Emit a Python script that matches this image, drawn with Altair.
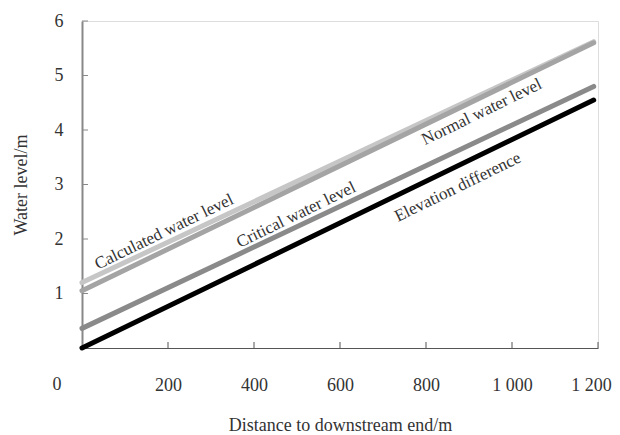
import altair as alt
import pandas as pd

# --- data ---
series = ["Calculated water level", "Normal water level", "Critical water level", "Elevation difference"]
dist = [0, 1190]
calculated = [1.20, 5.62]
normal = [1.05, 5.60]
critical = [0.36, 4.80]
elevation = [0.00, 4.55]
colors = ["#c6c6c6", "#a4a4a4", "#8a8a8a", "#000000"]
widths = [5, 5, 5, 4]

label_x = [191, 930, 498, 874]
label_y = [2.13, 4.33, 2.44, 2.95]

x_ticks = [200, 400, 600, 800, 1000, 1200]
y_ticks = [1, 2, 3, 4, 5, 6]

W, H = 516, 327
FONT = "Liberation Serif"

rows = []
for name, vals in zip(series, [calculated, normal, critical, elevation]):
    for d, v in zip(dist, vals):
        rows.append({"series": name, "x": d, "y": v})
df = pd.DataFrame(rows)

lab = pd.DataFrame({"series": series, "x": label_x, "y": label_y})

xs = alt.Scale(domain=[0, 1200], nice=False)
ys = alt.Scale(domain=[0, 6], nice=False)

base_x = alt.X("x:Q", scale=xs, axis=alt.Axis(
    values=x_ticks, ticks=False, grid=False, domainColor="#555", domainWidth=1.2,
    labelFont=FONT, labelFontSize=18, labelColor="#333", labelPadding=28,
    labelFlush=False, labelOverlap=False,
    labelOffset={"condition": {"test": "datum.value == 1200", "value": -7}, "value": 0},
    labelExpr="replace(format(datum.value, ','), ',', ' ')",
    title="Distance to downstream end/m", titleFont=FONT, titleFontSize=18,
    titleFontWeight="normal", titleColor="#333", titlePadding=22))
base_y = alt.Y("y:Q", scale=ys, axis=alt.Axis(
    values=y_ticks, ticks=False, grid=False, domainColor="#888", domainWidth=2,
    format="d", labelFlush=False,
    labelFont=FONT, labelFontSize=18, labelColor="#333", labelPadding=19,
    title="Water level/m", titleFont=FONT, titleFontSize=18,
    titleFontWeight="normal", titleColor="#333", titlePadding=24))

color = alt.Color("series:N", scale=alt.Scale(domain=series, range=colors), legend=None)
size = alt.StrokeWidth("series:N", scale=alt.Scale(domain=series, range=widths), legend=None)

lines = alt.Chart(df).mark_line(strokeCap="round").encode(
    x=base_x, y=base_y, color=color, strokeWidth=size, detail="series:N")

texts = alt.Chart(lab).mark_text(font=FONT, fontSize=17, angle=334, color="#333").encode(
    x=alt.X("x:Q", scale=xs), y=alt.Y("y:Q", scale=ys), text="series:N")

xt = pd.DataFrame({"v": x_ticks})
x_tickmarks = alt.Chart(xt).mark_rule(color="#555", strokeWidth=1).encode(
    x=alt.X("v:Q", scale=xs), y=alt.value(H), y2=alt.value(H - 6))
yt = pd.DataFrame({"v": y_ticks})
y_tickmarks = alt.Chart(yt).mark_rule(color="#888", strokeWidth=1).encode(
    y=alt.Y("v:Q", scale=ys), x=alt.value(0), x2=alt.value(6))

zero = alt.Chart(pd.DataFrame({"t": ["0"]})).mark_text(
    font=FONT, fontSize=18, color="#333").encode(
    text="t:N", x=alt.value(-25), y=alt.value(H + 37))

chart = alt.layer(lines, texts, x_tickmarks, y_tickmarks, zero).properties(
    width=W, height=H,
    autosize=alt.AutoSizeParams(type="none"),
    padding={"left": 74, "top": 13, "right": 14, "bottom": 90},
).configure_view(stroke=None).configure(background="white")

chart.save("out.html", embed_options={"renderer": "svg", "actions": False})
